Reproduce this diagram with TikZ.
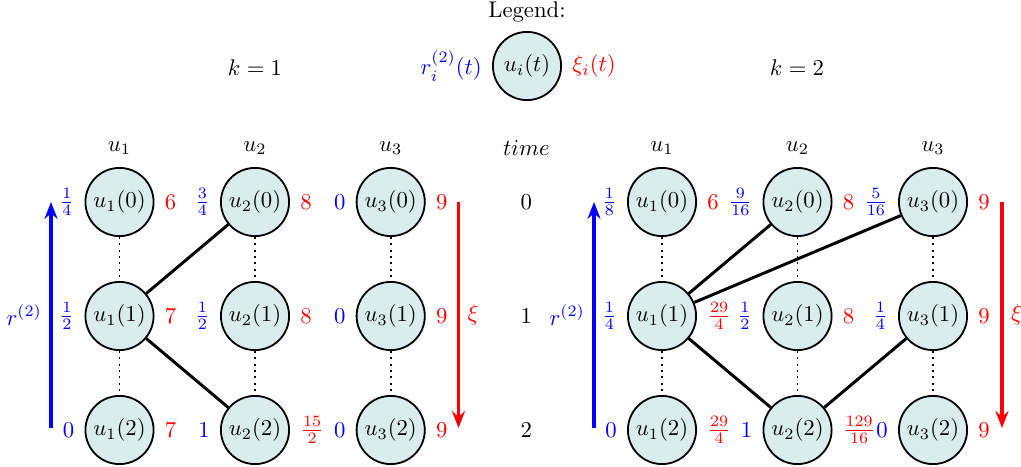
\documentclass[tikz,border=0pt]{standalone}
\usepackage{amsmath}
\usepackage{tikz}
\usetikzlibrary{arrows.meta}
\definecolor{nodefill}{RGB}{216,237,236}
\tikzstyle{unode}=[circle,draw=black,thick,fill=nodefill,
                   inner sep=0pt,minimum size=30pt]
\tikzstyle{link}=[line width=1.3pt]
\tikzstyle{wait}=[thick,dotted]
\tikzstyle{rarrow}=[draw=blue,line width=1.4pt,-{Stealth[length=2.6mm,width=2mm]}]
\tikzstyle{xarrow}=[draw=red,line width=1.4pt,-{Stealth[length=2.6mm,width=2mm]}]

\begin{document}
\begin{tikzpicture}[x=0.44pt,y=-0.44pt,label distance=1pt]
    \useasboundingbox (0,0) rectangle (1021,467);
    % legend
    \node (leg) at (527,12) {Legend:};
    \node (lg) at (527,66) [unode,label={[blue]left:$r_i^{(2)}(t)$},
          label={[red]right:$\xi_i(t)$}] {$u_i(t)$};
    \node (k1) at (255,68) {$k=1$};
    \node (k2) at (797,68) {$k=2$};
    % column heads
    \node (ha1) at (119.5,148) {$u_1$};
    \node (ha2) at (255,148) {$u_2$};
    \node (ha3) at (390.7,148) {$u_3$};
    \node (ht) at (526.3,148) {$time$};
    \node (hb1) at (662,148) {$u_1$};
    \node (hb2) at (797.5,148) {$u_2$};
    \node (hb3) at (933,148) {$u_3$};
    \node (t0) at (526.3,202) {0};
    \node (t1) at (526.3,316) {1};
    \node (t2) at (526.3,430) {2};
    % k = 1
    \node (a10) at (119.5,202) [unode,label={[blue]left:$\frac{1}{4}$},label={[red]right:$6$}] {$u_1(0)$};
    \node (a20) at (255,202) [unode,label={[blue]left:$\frac{3}{4}$},label={[red]right:$8$}] {$u_2(0)$};
    \node (a30) at (390.7,202) [unode,label={[blue]left:$0$},label={[red]right:$9$}] {$u_3(0)$};
    \node (a11) at (119.5,316) [unode,label={[blue]left:$\frac{1}{2}$},label={[red]right:$7$}] {$u_1(1)$};
    \node (a21) at (255,316) [unode,label={[blue]left:$\frac{1}{2}$},label={[red]right:$8$}] {$u_2(1)$};
    \node (a31) at (390.7,316) [unode,label={[blue]left:$0$},label={[red]right:$9$}] {$u_3(1)$};
    \node (a12) at (119.5,430) [unode,label={[blue]left:$0$},label={[red]right:$7$}] {$u_1(2)$};
    \node (a22) at (255,430) [unode,label={[blue]left:$1$},label={[red]right:$\frac{15}{2}$}] {$u_2(2)$};
    \node (a32) at (390.7,430) [unode,label={[blue]left:$0$},label={[red]right:$9$}] {$u_3(2)$};
    \draw[wait] (a10) -- (a11) -- (a12) (a20) -- (a21) -- (a22) (a30) -- (a31) -- (a32);
    \draw[link] (a11) -- (a20) (a11) -- (a22);
    \coordinate (ra0) at (51,428);
    \coordinate (ra1) at (51,202);
    \coordinate (xa0) at (458.5,202);
    \coordinate (xa1) at (458.5,428);
    \draw[rarrow] (ra0) -- (ra1) node[midway,left,blue] {$r^{(2)}$};
    \draw[xarrow] (xa0) -- (xa1) node[midway,right,red] {$\xi$};
    % k = 2
    \node (b10) at (662,202) [unode,label={[blue]left:$\frac{1}{8}$},label={[red]right:$6$}] {$u_1(0)$};
    \node (b20) at (797.5,202) [unode,label={[blue]left:$\frac{9}{16}$},label={[red]right:$8$}] {$u_2(0)$};
    \node (b30) at (933,202) [unode,label={[blue]left:$\frac{5}{16}$},label={[red]right:$9$}] {$u_3(0)$};
    \node (b11) at (662,316) [unode,label={[blue]left:$\frac{1}{4}$},label={[red]right:$\frac{29}{4}$}] {$u_1(1)$};
    \node (b21) at (797.5,316) [unode,label={[blue]left:$\frac{1}{2}$},label={[red]right:$8$}] {$u_2(1)$};
    \node (b31) at (933,316) [unode,label={[blue]left:$\frac{1}{4}$},label={[red]right:$9$}] {$u_3(1)$};
    \node (b12) at (662,430) [unode,label={[blue]left:$0$},label={[red]right:$\frac{29}{4}$}] {$u_1(2)$};
    \node (b22) at (797.5,430) [unode,label={[blue]left:$1$},label={[red]right:$\frac{129}{16}$}] {$u_2(2)$};
    \node (b32) at (933,430) [unode,label={[blue]left:$0$},label={[red]right:$9$}] {$u_3(2)$};
    \draw[wait] (b10) -- (b11) -- (b12) (b20) -- (b21) -- (b22) (b30) -- (b31) -- (b32);
    \draw[link] (b11) -- (b20) (b11) -- (b30) (b11) -- (b22) (b22) -- (b31);
    \coordinate (rb0) at (594,428);
    \coordinate (rb1) at (594,202);
    \coordinate (xb0) at (1002,202);
    \coordinate (xb1) at (1002,428);
    \draw[rarrow] (rb0) -- (rb1) node[midway,left,blue] {$r^{(2)}$};
    \draw[xarrow] (xb0) -- (xb1) node[midway,right,red] {$\xi$};
\end{tikzpicture}
\end{document}
